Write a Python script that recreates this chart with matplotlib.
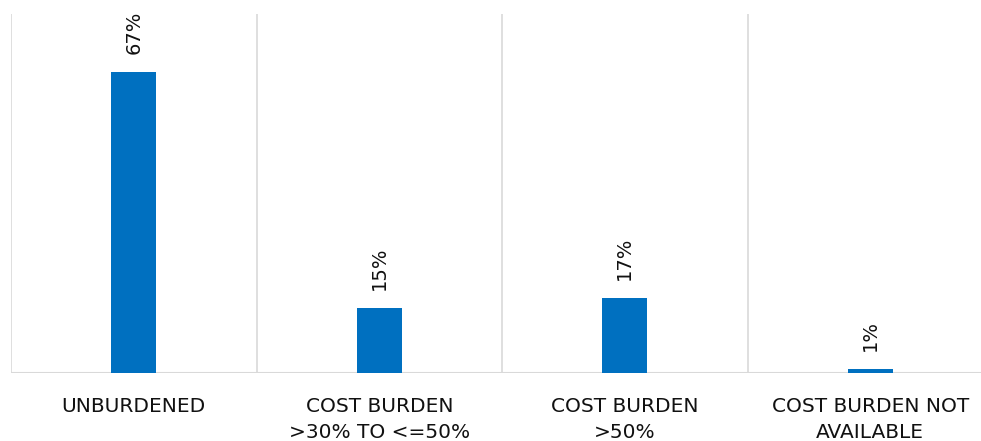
import matplotlib
matplotlib.use("Agg")
import matplotlib.pyplot as plt

categories = ["UNBURDENED", "COST BURDEN\n>30% TO <=50%", "COST BURDEN\n>50%", "COST BURDEN NOT\nAVAILABLE"]
values = [67.0, 14.5, 16.7, 0.8]
labels = ["67%", "15%", "17%", "1%"]

W, H = 981, 441
fig = plt.figure(figsize=(W / 100, H / 100), dpi=100)
ax = fig.add_axes([11 / W, (H - 373) / H, 982 / W, (373 - 14) / H])

x = list(range(len(categories)))
bars = ax.bar(x, values, width=0.183, color="#0070C0", zorder=3)
ax.set_xlim(-0.5, len(categories) - 0.5)
ax.set_ylim(0, 80)

grid_c = "#d9d9d9"
for b in [i - 0.5 for i in range(len(categories) + 1)]:
    ax.axvline(b, color=grid_c, lw=1.2, zorder=1)
for s in ax.spines.values():
    s.set_visible(False)
ax.axhline(0, color=grid_c, lw=1.5, zorder=2)

ax.set_yticks([])
ax.set_xticks(x)
ax.set_xticklabels(categories, fontsize=14.5, color="#111111", linespacing=1.5)
ax.tick_params(axis="x", length=0, pad=17)

for xi, v, lab in zip(x, values, labels):
    ax.annotate(lab, (xi, v), xytext=(0, 13), textcoords="offset points",
                rotation=90, ha="center", va="bottom", fontsize=14, color="#111111")

fig.savefig("out.png", dpi=100)
